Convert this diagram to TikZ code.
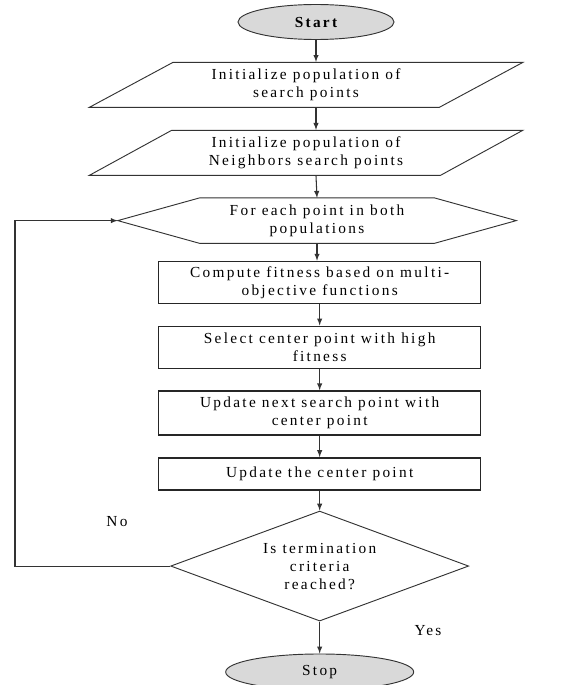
\documentclass[tikz,border=0pt]{standalone}
\usepackage{fontspec}
\setmainfont{Liberation Serif}
\newfontfamily\flowfont[LetterSpace=15]{Liberation Serif}
\usetikzlibrary{arrows,positioning,shapes.geometric}

\begin{document}
\begin{tikzpicture}[x=0.75pt,y=-0.75pt,node distance=16.5pt,
  font=\flowfont\fontsize{11.5}{13.5}\selectfont]
\useasboundingbox (0,0) rectangle (582,685);
\tikzset{
  term/.style={ellipse,draw=black!80,fill=gray!30,line width=0.7pt,
    minimum width=117pt,minimum height=26.25pt,inner sep=0pt},
  inout/.style={trapezium,trapezium left angle=30,trapezium right angle=150,
    trapezium stretches=true,draw=black!80,line width=0.7pt,
    minimum width=325.5pt,minimum height=33.75pt,align=center,inner sep=1pt},
  loopbox/.style={rectangle,minimum width=298.5pt,minimum height=33.75pt,
    align=center,inner sep=1pt},
  procbox/.style={rectangle,draw=black!85,line width=1.1pt,
    minimum width=241.5pt,minimum height=31.5pt,align=center,inner sep=1pt},
  decide/.style={diamond,aspect=2.7,draw=black!80,line width=0.7pt,
    minimum width=223.5pt,minimum height=82.5pt,align=center,inner sep=0pt},
  edge/.style={draw=black!80,line width=0.7pt},
  arr/.style={-latex,draw=black!80,line width=0.8pt}
}
\node[term] (start) at (316,22) {\bfseries Start};
\node[inout,below=of start,xshift=-7.5pt] (init1) {Initialize population of\\search points};
\node[inout,below=of init1] (init2) {Initialize population of\\Neighbors search points};
\node[loopbox,below=of init2,xshift=8.25pt] (each) {For each point in both\\populations};
\draw[edge] (each.west) -- ([xshift=61.5pt]each.north west) -- ([xshift=-61.5pt]each.north east)
  -- (each.east) -- ([xshift=-61.5pt]each.south east) -- ([xshift=61.5pt]each.south west) -- cycle;
\node[procbox,below=13pt of each,xshift=2pt] (fit) {Compute fitness based on multi-\\objective functions};
\node[procbox,below=16pt of fit] (sel) {Select center point with high\\fitness};
\node[procbox,below=16pt of sel,minimum height=33pt] (upd) {Update next search point with\\center point};
\node[procbox,below=16pt of upd,minimum height=24pt] (ctr) {Update the center point};
\node[decide,below=15pt of ctr] (term) {Is termination\\criteria\\reached?};
\node[term,below=24pt of term,minimum width=141pt,minimum height=27pt] (stop) {Stop};
\node (no) at (117,522) {No};
\node (yes) at (428,631) {Yes};
\coordinate (back) at (15,0);

\draw[arr] (start.south) -- (start.south |- init1.north);
\draw[arr] (start.south |- init1.south) -- (start.south |- init2.north);
\draw[arr] (start.south |- init2.south) -- (each.north);
\draw[arr] (each.south) -- (each.south |- fit.north);
\draw[arr] (fit) -- (sel);
\draw[arr] (sel) -- (upd);
\draw[arr] (upd) -- (ctr);
\draw[arr] (ctr) -- (term);
\draw[arr] (term) -- (stop);
\draw[arr] (term.west) -- (term.west -| back) |- (each.west);
\end{tikzpicture}
\end{document}
